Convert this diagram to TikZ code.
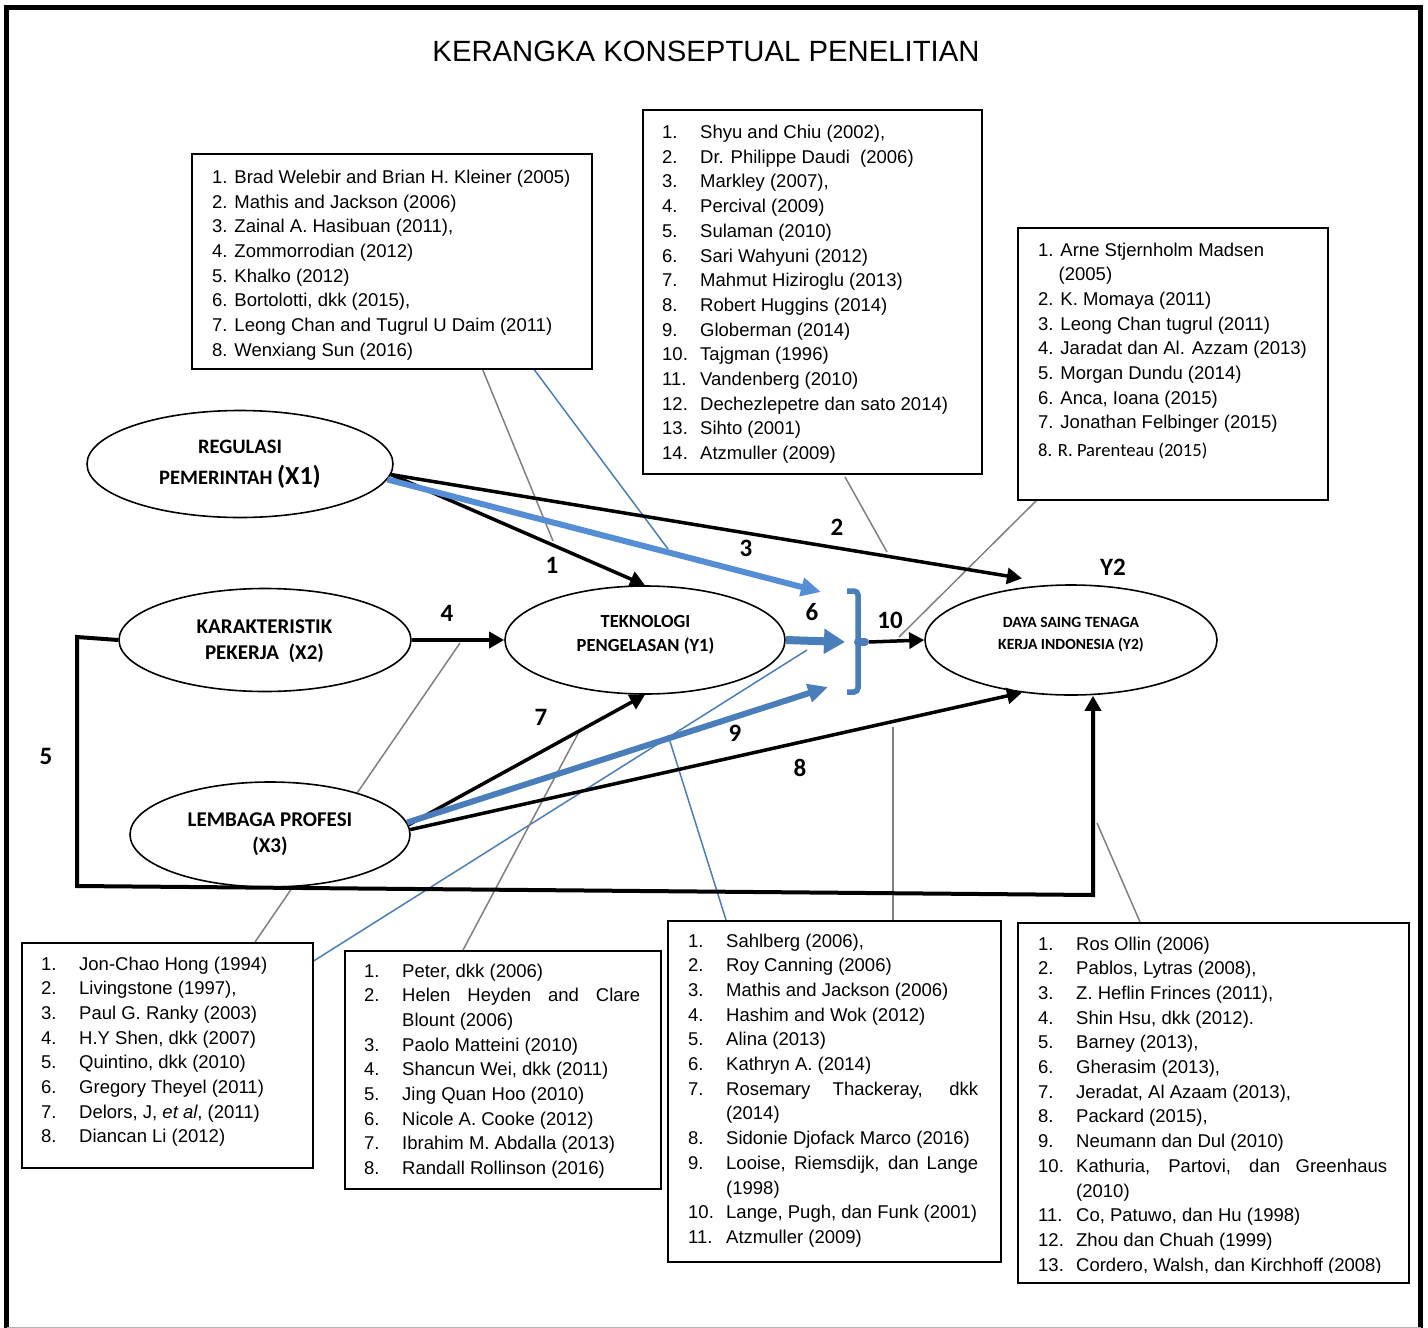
\documentclass[tikz,border=0pt]{standalone}
\usepackage{fontspec}
\setmainfont{Liberation Sans}
\newfontfamily\carlito{Carlito}
\usetikzlibrary{arrows.meta,shapes.geometric}

\definecolor{paleblue}{RGB}{85,142,213}
\definecolor{deepblue}{RGB}{74,126,187}
\definecolor{leadgray}{RGB}{128,128,128}

% fixed-width number column for the reference lists
\newcommand\refno[1]{\makebox[38pt][l]{#1}}

\begin{document}
\begin{tikzpicture}[x=1pt,y=-1pt,
  oval/.style={ellipse, draw=black, line width=1.6pt, fill=white, inner sep=0pt},
  ovaltext/.style={anchor=base, inner sep=0pt},
  refbox/.style={draw=black, line width=1.8pt, fill=white, anchor=north west, inner sep=0pt},
  reftext/.style={anchor=base west, inner sep=0pt, font=\fontsize{18.5}{24.7}\selectfont},
  num/.style={font=\carlito\bfseries\fontsize{25}{25}\selectfont, inner sep=0pt},
  conn/.style={draw=black, line width=3.5pt, -{Triangle[length=15pt,width=16pt]}},
  bluepale/.style={draw=paleblue, line width=6pt, -{Triangle[length=20pt,width=18pt]}},
  bluedeep/.style={draw=deepblue, line width=6pt, -{Triangle[length=20pt,width=18pt]}},
  leadg/.style={draw=leadgray, line width=1.5pt},
  leadb/.style={draw=deepblue, line width=1.5pt},
]
\useasboundingbox (0,0) rectangle (1428,1328);

% outer frame
\draw[line width=5pt] (6.5,1328) -- (6.5,7.5) -- (1420.5,7.5) -- (1420.5,1328);
\draw[gray!60, line width=1pt] (6.5,1327) -- (1420.5,1327);

% title
\node[font=\fontsize{29.3}{29.3}\selectfont, anchor=base, inner sep=0pt] (title) at (706,61.5) {KERANGKA KONSEPTUAL PENELITIAN};

% leader lines from the reference boxes to the paths
\coordinate (la1) at (482,368);  \coordinate (la2) at (553,541);
\coordinate (lb1) at (533,368);  \coordinate (lb2) at (668,549);
\coordinate (lc1) at (845,477);  \coordinate (lc2) at (887,552);
\coordinate (ld1) at (1038,499); \coordinate (ld2) at (899,637);
\coordinate (le1) at (255,942);  \coordinate (le2) at (460,643);
\coordinate (lf1) at (312,962);  \coordinate (lf2) at (807,650);
\coordinate (lg1) at (463,950);  \coordinate (lg2) at (580,730);
\coordinate (lh1) at (726,920);  \coordinate (lh2) at (668,735);
\coordinate (li1) at (893,928);  \coordinate (li2) at (893,727);
\coordinate (lj1) at (1140,922); \coordinate (lj2) at (1097,823);
\draw[leadg] (la1) -- (la2);
\draw[leadb] (lb1) -- (lb2);
\draw[leadg] (lc1) -- (lc2);
\draw[leadg] (ld1) -- (ld2);
\draw[leadg] (le1) -- (le2);
\draw[leadb] (lf1) -- (lf2);
\draw[leadg] (lg1) -- (lg2);
\draw[leadb] (lh1) -- (lh2);
\draw[leadg] (li1) -- (li2);
\draw[leadg] (lj1) -- (lj2);

% variables
\node[oval, minimum width=306pt, minimum height=107pt] (x1) at (240,464) {};
\node[oval, minimum width=292pt, minimum height=103pt] (x2) at (265,640) {};
\node[oval, minimum width=280pt, minimum height=105pt] (x3) at (270,834.5) {};
\node[oval, minimum width=280pt, minimum height=108pt] (y1) at (645,640) {};
\node[oval, minimum width=292pt, minimum height=110pt] (y2) at (1071,640) {};

\node[ovaltext, font=\carlito\bfseries\fontsize{20.5}{31}\selectfont] (x1t) at (240,453)
  {\parbox[t]{300pt}{\centering REGULASI\\PEMERINTAH {\fontsize{26}{31}\selectfont(X1)}}};
\node[ovaltext, font=\carlito\bfseries\fontsize{21}{26}\selectfont] (x2t) at (264.5,633)
  {\parbox[t]{280pt}{\centering KARAKTERISTIK\\PEKERJA\ \ (X2)}};
\node[ovaltext, font=\carlito\bfseries\fontsize{21}{26}\selectfont] (x3t) at (270,826)
  {\parbox[t]{270pt}{\centering LEMBAGA PROFESI\\(X3)}};
\node[ovaltext, font=\carlito\bfseries\fontsize{18.5}{24}\selectfont] (y1t) at (645.5,627)
  {\parbox[t]{270pt}{\centering TEKNOLOGI\\PENGELASAN (Y1)}};
\node[ovaltext, font=\carlito\bfseries\fontsize{15.6}{22.5}\selectfont] (y2t) at (1071,627)
  {\parbox[t]{280pt}{\centering DAYA SAING TENAGA\\KERJA INDONESIA (Y2)}};

% bracket collecting the mediated paths
\coordinate (in3) at (821,592);
\coordinate (in6) at (845,642);
\coordinate (in9) at (828,687);
\coordinate (brkout) at (869,642);
\draw[deepblue, line width=5.5pt, rounded corners=4pt] (847,591) -- (858,591) -- (858,692) -- (847,692);
\draw[deepblue, line width=8pt, line cap=round] (858,642) -- (865,642);

% paths
\draw[conn] (x1.-4) -- (y1.north);
\draw[conn] (x1.-4) -- ([yshift=9pt]y2.133);
\draw[bluepale] (x1.-6) -- (in3);
\draw[conn] (x2.east) -- (y1.west);
\coordinate (c5a) at (77,637);
\coordinate (c5b) at (77,886);
\coordinate (c5c) at (1093,895);
\draw[conn, line width=4pt] (x2.west) -- (c5a) -- (c5b) -- (c5c) -- (c5c |- y2.south);
\draw[draw=deepblue, line width=8pt, -{Triangle[length=21pt,width=24pt]}] (y1.east) -- (in6);
\draw[conn] (x3.4) -- (y1.south);
\draw[conn] (x3.2) -- (y2.-133);
\draw[bluedeep] (x3.5) -- (in9);
\draw[conn] (brkout) -- (y2.west);

% path numbers
\node[num] (n1) at (552,565) {1};
\node[num] (n2) at (837,527) {2};
\node[num] (n3) at (746,548) {3};
\node[num] (n4) at (447,613) {4};
\node[num] (n5) at (46,756) {5};
\node[num] (n6) at (812,612) {6};
\node[num] (n7) at (541,717) {7};
\node[num] (n8) at (800,768) {8};
\node[num] (n9) at (735,733) {9};
\node[num] (n10) at (890,620) {10};
\node[num] (ny2) at (1113,567) {Y2};

% reference boxes
\node[refbox, minimum width=400pt, minimum height=215pt] (boxa) at (191,153) {};
\node[reftext] (texta) at (212,183.3) {\parbox[t]{375pt}{\raggedright
1. Brad Welebir and Brian H. Kleiner (2005)\\
2. Mathis and Jackson (2006)\\
3. Zainal A. Hasibuan (2011),\\
4. Zommorrodian (2012)\\
5. Khalko (2012)\\
6. Bortolotti, dkk (2015),\\
7. Leong Chan and Tugrul U Daim (2011)\\
8. Wenxiang Sun (2016)}};

\node[refbox, minimum width=339pt, minimum height=364pt] (boxb) at (642,109) {};
\node[reftext] (textb) at (662,138.5) {\parbox[t]{315pt}{\raggedright
\refno{1.}Shyu and Chiu (2002),\\
\refno{2.}Dr. Philippe Daudi\ \ (2006)\\
\refno{3.}Markley (2007),\\
\refno{4.}Percival (2009)\\
\refno{5.}Sulaman (2010)\\
\refno{6.}Sari Wahyuni (2012)\\
\refno{7.}Mahmut Hiziroglu (2013)\\
\refno{8.}Robert Huggins (2014)\\
\refno{9.}Globerman (2014)\\
\refno{10.}Tajgman (1996)\\
\refno{11.}Vandenberg (2010)\\
\refno{12.}Dechezlepetre dan sato 2014)\\
\refno{13.}Sihto (2001)\\
\refno{14.}Atzmuller (2009)}};

\node[refbox, minimum width=310pt, minimum height=272pt] (boxc) at (1017,227) {};
\node[reftext] (textc) at (1038,256) {\parbox[t]{285pt}{\raggedright
1. Arne Stjernholm Madsen\\
\hspace*{20.5pt}(2005)\\
2. K. Momaya (2011)\\
3. Leong Chan tugrul (2011)\\
4. Jaradat dan Al. Azzam (2013)\\
5. Morgan Dundu (2014)\\
6. Anca, Ioana (2015)\\
7. Jonathan Felbinger (2015)\\[2.5pt]
{\carlito\fontsize{18.6}{24.7}\selectfont 8. R. Parenteau (2015)}}};

\node[refbox, minimum width=291pt, minimum height=225pt] (boxd) at (21,942) {};
\node[reftext] (textd) at (41,970) {\parbox[t]{265pt}{\raggedright
\refno{1.}Jon-Chao Hong (1994)\\
\refno{2.}Livingstone (1997),\\
\refno{3.}Paul G. Ranky (2003)\\
\refno{4.}H.Y Shen, dkk (2007)\\
\refno{5.}Quintino, dkk (2010)\\
\refno{6.}Gregory Theyel (2011)\\
\refno{7.}Delors, J, \textit{et al}, (2011)\\
\refno{8.}Diancan Li (2012)}};

\node[refbox, minimum width=316pt, minimum height=238pt] (boxe) at (344,950) {};
\node[reftext] (texte) at (364,977) {\parbox[t]{290pt}{\raggedright
\refno{1.}Peter, dkk (2006)\\
\refno{2.}\makebox[238pt][s]{Helen Heyden and Clare}\\
\refno{}Blount (2006)\\
\refno{3.}Paolo Matteini (2010)\\
\refno{4.}Shancun Wei, dkk (2011)\\
\refno{5.}Jing Quan Hoo (2010)\\
\refno{6.}Nicole A. Cooke (2012)\\
\refno{7.}Ibrahim M. Abdalla (2013)\\
\refno{8.}Randall Rollinson (2016)}};

\node[refbox, minimum width=333pt, minimum height=341pt] (boxf) at (667,920) {};
\node[reftext] (textf) at (688,947) {\parbox[t]{310pt}{\raggedright
\refno{1.}Sahlberg (2006),\\
\refno{2.}Roy Canning (2006)\\
\refno{3.}Mathis and Jackson (2006)\\
\refno{4.}Hashim and Wok (2012)\\
\refno{5.}Alina (2013)\\
\refno{6.}Kathryn A. (2014)\\
\refno{7.}\makebox[252pt][s]{Rosemary Thackeray, dkk}\\
\refno{}(2014)\\
\refno{8.}Sidonie Djofack Marco (2016)\\
\refno{9.}\makebox[252pt][s]{Looise, Riemsdijk, dan Lange}\\
\refno{}(1998)\\
\refno{10.}Lange, Pugh, dan Funk (2001)\\
\refno{11.}Atzmuller (2009)}};

\node[refbox, minimum width=391pt, minimum height=360pt] (boxg) at (1017,922) {};
\begin{scope}
\clip (1017,922) rectangle (1408,1272);
\node[reftext] (textg) at (1038,950) {\parbox[t]{365pt}{\raggedright
\refno{1.}Ros Ollin (2006)\\
\refno{2.}Pablos, Lytras (2008),\\
\refno{3.}Z. Heflin Frinces (2011),\\
\refno{4.}Shin Hsu, dkk (2012).\\
\refno{5.}Barney (2013),\\
\refno{6.}Gherasim (2013),\\
\refno{7.}Jeradat, Al Azaam (2013),\\
\refno{8.}Packard (2015),\\
\refno{9.}Neumann dan Dul (2010)\\
\refno{10.}\makebox[311pt][s]{Kathuria, Partovi, dan Greenhaus}\\
\refno{}(2010)\\
\refno{11.}Co, Patuwo, dan Hu (1998)\\
\refno{12.}Zhou dan Chuah (1999)\\
\refno{13.}Cordero, Walsh, dan Kirchhoff (2008)}};
\end{scope}

\end{tikzpicture}
\end{document}
